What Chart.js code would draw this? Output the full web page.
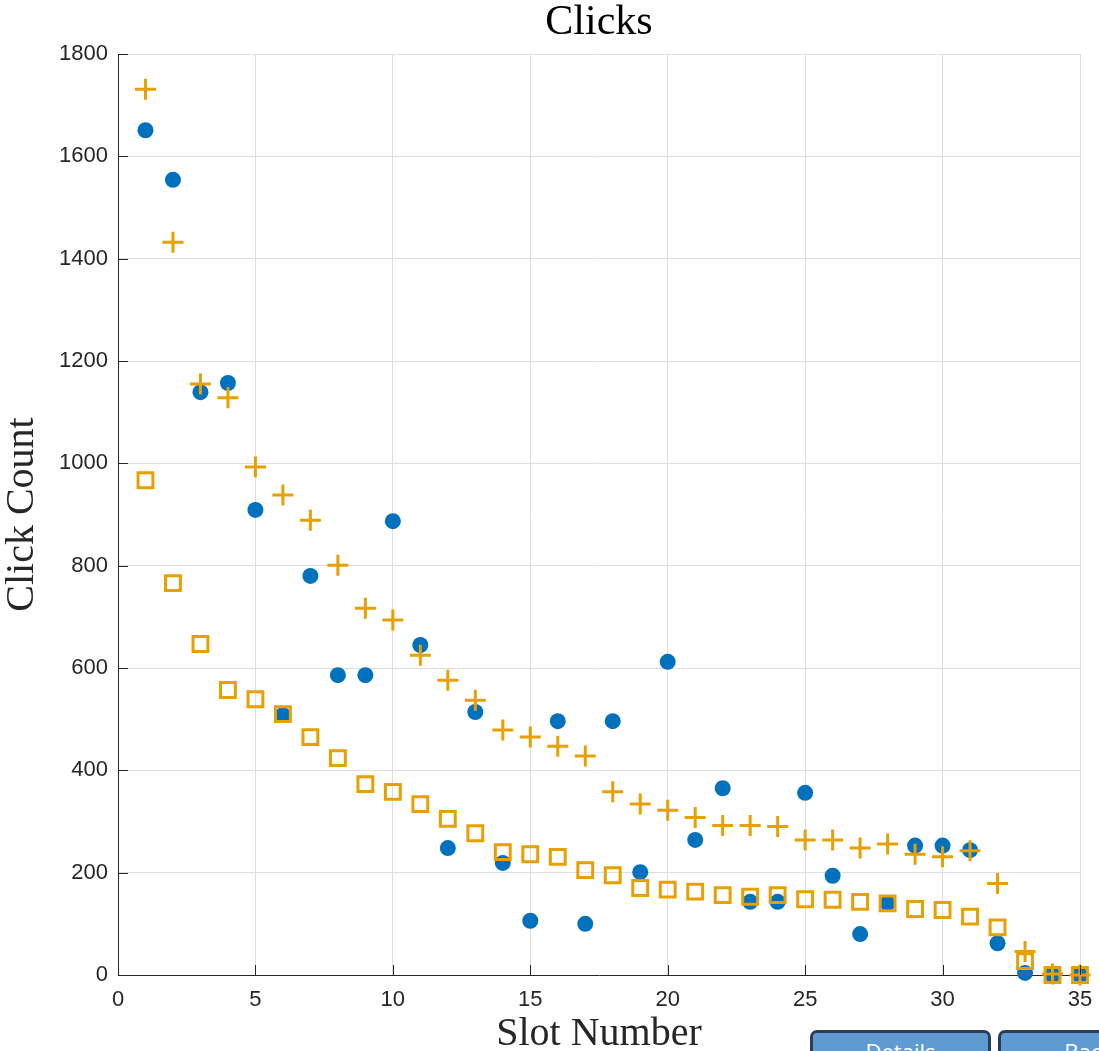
<!DOCTYPE html>
<html>
<head>
<meta charset="utf-8">
<script src="https://cdn.jsdelivr.net/npm/chart.js@4.4.1/dist/chart.umd.min.js"></script>
<style>
  body { margin: 0; background: #fff; overflow: hidden; }
  #wrap { position: relative; width: 1099px; height: 1051px; }
  .btn {
    position: absolute; top: 1030px; width: 181px; height: 40px;
    background: #5f9ad3; border: 3px solid #2c3e56; border-radius: 7px;
    color: #fff; font: 22px "Open Sans", sans-serif; text-align: center;
    line-height: 36px; box-sizing: border-box;
  }
</style>
</head>
<body>
<div id="wrap">
  <canvas id="chart" width="1099" height="1051"></canvas>
  <div class="btn" style="left:810px;">Details</div>
  <div class="btn" style="left:998px;">Back</div>
</div>
<script>
// values
const slots = [1,2,3,4,5,6,7,8,9,10,11,12,13,14,15,16,17,18,19,20,21,22,23,24,25,26,27,28,29,30,31,32,33,34,35];
const clicksDots = [1651,1554,1139,1157,909,508,780,586,586,887,645,248,514,219,106,496,100,496,201,612,264,365,143,143,356,194,80,140,253,253,244,62,4,0,0];
const clicksPlus = [1731,1432,1155,1128,993,938,889,801,717,694,625,576,537,479,465,447,428,358,334,322,308,292,292,290,264,264,248,256,236,231,243,179,46,2,0];
const clicksSquare = [967,766,647,557,539,510,465,424,373,358,334,305,277,240,236,231,205,195,170,167,163,156,153,156,148,147,143,140,129,127,114,93,27,0,0];

const BLUE = '#0072BD';
const ORANGE = '#E8A000';
const serif = '"Liberation Serif", "DejaVu Serif", serif';
const sans = '"Liberation Sans", Arial, sans-serif';
const titleText = 'Clicks';

function toPoints(vals) {
  return slots.map((s, i) => ({ x: s, y: vals[i] }));
}

// matlab style: ticks point into the plot, title centred over the axes
const matlabBits = {
  id: 'matlabBits',
  afterDraw(chart) {
    const { ctx, chartArea, scales } = chart;
    ctx.save();
    ctx.strokeStyle = '#262626';
    ctx.lineWidth = 1;
    ctx.beginPath();
    scales.x.ticks.forEach(t => {
      const px = Math.round(scales.x.getPixelForValue(t.value)) + 0.5;
      ctx.moveTo(px, chartArea.bottom);
      ctx.lineTo(px, chartArea.bottom - 10);
    });
    scales.y.ticks.forEach(t => {
      const py = Math.round(scales.y.getPixelForValue(t.value)) + 0.5;
      ctx.moveTo(chartArea.left, py);
      ctx.lineTo(chartArea.left + 10, py);
    });
    ctx.stroke();

    ctx.fillStyle = '#000';
    ctx.font = '42px ' + serif;
    ctx.textAlign = 'center';
    ctx.textBaseline = 'alphabetic';
    ctx.fillText(titleText, (chartArea.left + chartArea.right) / 2, 34);
    ctx.restore();
  }
};

new Chart(document.getElementById('chart').getContext('2d'), {
  type: 'scatter',
  data: {
    datasets: [
      {
        label: 'dots',
        data: toPoints(clicksDots),
        pointStyle: 'circle',
        pointRadius: 8,
        backgroundColor: BLUE,
        borderColor: BLUE,
        borderWidth: 0,
        order: 3,
        clip: false
      },
      {
        label: 'plus',
        data: toPoints(clicksPlus),
        pointStyle: 'cross',
        pointRadius: 10.5,
        borderColor: ORANGE,
        backgroundColor: ORANGE,
        borderWidth: 3,
        order: 2,
        clip: false
      },
      {
        label: 'square',
        data: toPoints(clicksSquare),
        pointStyle: 'rect',
        pointRadius: 10.5,
        borderColor: ORANGE,
        backgroundColor: 'rgba(0,0,0,0)',
        borderWidth: 3,
        order: 1,
        clip: false
      }
    ]
  },
  options: {
    responsive: false,
    animation: false,
    layout: { padding: { top: 54, right: 19, bottom: 0, left: 0 } },
    plugins: {
      legend: { display: false },
      tooltip: { enabled: false },
      title: { display: false }
    },
    scales: {
      x: {
        type: 'linear',
        min: 0,
        max: 35,
        afterFit(scale) { scale.height = 76; scale.paddingRight = 0; scale.paddingLeft = 0; },
        ticks: { stepSize: 5, padding: 12, color: '#262626', font: { family: sans, size: 22 }, callback: v => String(v) },
        grid: { color: '#dedede', drawTicks: false },
        border: { color: '#262626', width: 1 },
        title: {
          display: true,
          text: 'Slot Number',
          color: '#262626',
          font: { family: serif, size: 40, lineHeight: 1 },
          padding: { top: 0, bottom: -3 }
        }
      },
      y: {
        type: 'linear',
        min: 0,
        max: 1800,
        afterFit(scale) { scale.width = 118; },
        ticks: { stepSize: 200, padding: 10, color: '#262626', font: { family: sans, size: 22 }, callback: v => String(v) },
        grid: { color: '#dedede', drawTicks: false },
        border: { color: '#262626', width: 1 },
        title: {
          display: true,
          text: 'Click Count',
          color: '#262626',
          font: { family: serif, size: 40, lineHeight: 1 },
          padding: { top: 2, bottom: 0 }
        }
      }
    }
  },
  plugins: [matlabBits]
});
</script>
</body>
</html>
